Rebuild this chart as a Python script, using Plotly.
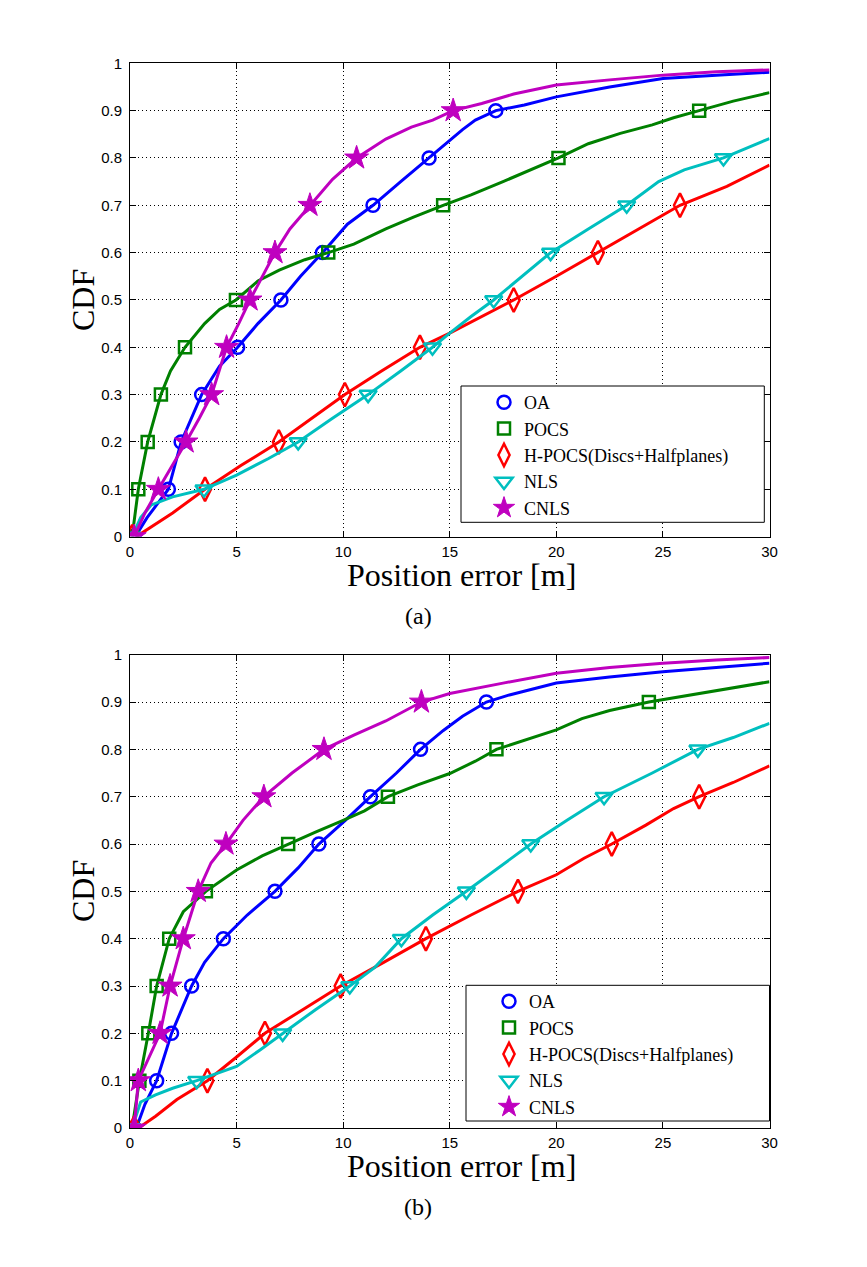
import plotly.graph_objects as go

W, H = 867, 1267
PAGE_OFFSET = 8  # default body margin of the html page

names = ["OA", "POCS", "H-POCS(Discs+Halfplanes)", "NLS", "CNLS"]
colors = ["#0000FF", "#008000", "#FF0000", "#00BFBF", "#BF00BF"]
symbols = ["circle-open", "square-open", "diamond-tall-open", "triangle-down-open", "star"]
msizes = [13, 12, 17, 15, 18]

levels = [0.0, 0.1, 0.2, 0.3, 0.4, 0.5, 0.6, 0.7, 0.8, 0.9]

# ---------------- panel (a) ----------------
a_oa_x = [0.25, 0.8, 1.3, 1.8, 2.4, 3.36, 4.2, 5.05, 6.0, 7.08, 8.0, 9.03, 10.2, 11.4, 12.7, 14.03, 15.0, 15.6, 16.2, 17.16, 18.5, 20, 22.5, 25, 27.5, 30]
a_oa_y = [0, 0.04, 0.07, 0.1, 0.2, 0.3, 0.36, 0.4, 0.45, 0.5, 0.55, 0.6, 0.66, 0.7, 0.75, 0.8, 0.838, 0.86, 0.88, 0.9, 0.912, 0.929, 0.95, 0.968, 0.975, 0.981]
a_oa_m = [0.2, 1.8, 2.4, 3.36, 5.05, 7.08, 9.03, 11.4, 14.03, 17.16]

a_pocs_x = [0.1, 0.39, 0.83, 1.45, 1.9, 2.58, 3.5, 4.2, 4.97, 6.0, 7.0, 8.2, 9.3, 10.5, 12.0, 13.3, 14.69, 16, 17.5, 18.8, 20.1, 21.5, 23, 24.5, 25.5, 26.7, 28.3, 30]
a_pocs_y = [0, 0.1, 0.2, 0.3, 0.35, 0.4, 0.45, 0.48, 0.5, 0.54, 0.563, 0.585, 0.6, 0.618, 0.65, 0.675, 0.7, 0.722, 0.75, 0.775, 0.8, 0.83, 0.852, 0.87, 0.885, 0.9, 0.92, 0.938]
a_pocs_m = [0.1, 0.39, 0.83, 1.45, 2.58, 4.97, 9.3, 14.69, 20.1, 26.7]

a_hp_x = [0.3, 1.0, 2.0, 3.52, 5.2, 6.98, 8.5, 10.08, 11.8, 13.6, 15, 16.5, 18.0, 20, 21.95, 23.9, 25.8, 28, 30]
a_hp_y = [0, 0.02, 0.05, 0.1, 0.15, 0.2, 0.25, 0.3, 0.35, 0.4, 0.43, 0.465, 0.5, 0.55, 0.6, 0.65, 0.7, 0.74, 0.785]
a_hp_m = [0.1, 3.52, 6.98, 10.08, 13.6, 18.0, 21.95, 25.8]

a_nls_x = [0.1, 0.5, 1.0, 2.0, 3.47, 5.0, 6.5, 7.89, 9.5, 11.17, 12.7, 14.19, 15.0, 16.0, 17.06, 18.4, 19.73, 21.5, 23.3, 24.8, 26, 27.84, 30]
a_nls_y = [0, 0.04, 0.067, 0.084, 0.1, 0.13, 0.165, 0.2, 0.25, 0.3, 0.35, 0.4, 0.43, 0.465, 0.5, 0.55, 0.6, 0.65, 0.7, 0.75, 0.775, 0.8, 0.841]
a_nls_m = [0.1, 3.47, 7.89, 11.17, 14.19, 17.06, 19.73, 23.3, 27.84]

a_cnls_x = [0.2, 0.7, 1.33, 2.0, 2.63, 3.25, 3.83, 4.53, 5.1, 5.63, 6.2, 6.8, 7.5, 8.44, 9.5, 10.63, 12.0, 13.2, 14.2, 15.16, 16.5, 18, 20, 22.5, 25, 27.5, 30]
a_cnls_y = [0, 0.05, 0.1, 0.15, 0.2, 0.25, 0.3, 0.4, 0.45, 0.5, 0.55, 0.6, 0.65, 0.7, 0.755, 0.8, 0.84, 0.865, 0.88, 0.9, 0.915, 0.935, 0.954, 0.965, 0.975, 0.982, 0.986]
a_cnls_m = [0.2, 1.33, 2.63, 3.83, 4.53, 5.63, 6.8, 8.44, 10.63, 15.16]

# ---------------- panel (b) ----------------
b_oa_x = [0.3, 0.7, 1.25, 1.95, 2.89, 3.5, 4.38, 5.5, 6.8, 7.9, 8.86, 10.1, 11.28, 12.5, 13.63, 14.7, 15.6, 16.72, 17.8, 20, 22.5, 25, 27.5, 30]
b_oa_y = [0, 0.05, 0.1, 0.2, 0.3, 0.35, 0.4, 0.45, 0.5, 0.55, 0.6, 0.65, 0.7, 0.75, 0.8, 0.84, 0.87, 0.9, 0.915, 0.94, 0.953, 0.964, 0.973, 0.982]
b_oa_m = [0.2, 1.25, 1.95, 2.89, 4.38, 6.8, 8.86, 11.28, 13.63, 16.72]

b_pocs_x = [0.1, 0.44, 0.86, 1.25, 1.84, 2.5, 3.56, 5.0, 6.2, 7.42, 8.7, 10.0, 11.0, 12.1, 13.5, 15, 16.2, 17.19, 18.6, 20, 21.2, 22.5, 24.34, 26, 28, 30]
b_pocs_y = [0, 0.1, 0.2, 0.3, 0.4, 0.457, 0.5, 0.545, 0.575, 0.6, 0.625, 0.65, 0.67, 0.7, 0.725, 0.749, 0.775, 0.8, 0.82, 0.841, 0.865, 0.882, 0.9, 0.913, 0.928, 0.943]
b_pocs_m = [0.1, 0.44, 0.86, 1.25, 1.84, 3.56, 7.42, 12.1, 17.19, 24.34]

b_hp_x = [0.4, 1.2, 2.2, 3.63, 5.0, 6.33, 8.1, 9.88, 11.9, 13.88, 16.0, 18.2, 20, 21.3, 22.6, 24.2, 25.5, 26.7, 28.3, 30]
b_hp_y = [0, 0.025, 0.06, 0.1, 0.15, 0.2, 0.25, 0.3, 0.35, 0.4, 0.45, 0.5, 0.535, 0.57, 0.6, 0.64, 0.675, 0.7, 0.73, 0.765]
b_hp_m = [0.2, 3.63, 6.33, 9.88, 13.88, 18.2, 22.6, 26.7]

b_nls_x = [0.1, 0.5, 1.2, 2.0, 3.13, 5.0, 6.1, 7.16, 8.7, 10.31, 11.5, 12.73, 14.2, 15.78, 17.3, 18.8, 20.5, 22.24, 24.5, 26.64, 28.3, 30]
b_nls_y = [0, 0.055, 0.07, 0.084, 0.1, 0.13, 0.165, 0.2, 0.25, 0.3, 0.34, 0.4, 0.45, 0.5, 0.55, 0.6, 0.65, 0.7, 0.75, 0.8, 0.825, 0.855]
b_nls_m = [0.1, 3.13, 7.16, 10.31, 12.73, 15.78, 18.8, 22.24, 26.64]

b_cnls_x = [0.2, 0.39, 1.41, 1.88, 2.5, 3.2, 3.8, 4.5, 5.3, 6.28, 7.6, 9.1, 10.5, 12.0, 13.67, 15, 17.5, 20, 22.5, 25, 27.5, 30]
b_cnls_y = [0, 0.1, 0.2, 0.3, 0.4, 0.5, 0.56, 0.6, 0.65, 0.7, 0.75, 0.8, 0.83, 0.86, 0.9, 0.918, 0.94, 0.961, 0.973, 0.982, 0.989, 0.994]
b_cnls_m = [0.2, 0.39, 1.41, 1.88, 2.5, 3.2, 4.5, 6.28, 9.1, 13.67]

x_ticks = [0, 5, 10, 15, 20, 25, 30]
y_ticks = [0, 0.1, 0.2, 0.3, 0.4, 0.5, 0.6, 0.7, 0.8, 0.9, 1]
x_title = "Position error [m]"
y_title = "CDF"
panel_labels = ["(a)", "(b)"]

panels = [
    [(a_oa_x, a_oa_y, a_oa_m), (a_pocs_x, a_pocs_y, a_pocs_m), (a_hp_x, a_hp_y, a_hp_m),
     (a_nls_x, a_nls_y, a_nls_m), (a_cnls_x, a_cnls_y, a_cnls_m)],
    [(b_oa_x, b_oa_y, b_oa_m), (b_pocs_x, b_pocs_y, b_pocs_m), (b_hp_x, b_hp_y, b_hp_m),
     (b_nls_x, b_nls_y, b_nls_m), (b_cnls_x, b_cnls_y, b_cnls_m)],
]

# pixel geometry (in page pixels) of the two plot boxes (left, right, top, bottom)
boxes = [(130, 769.5, 63.3, 536.6), (130, 769.5, 654.7, 1128.0)]
legend_boxes = [(461, 764.3, 386, 522.3), (466, 769.5, 985.3, 1121)]
legend_anchor = [(484, 384), (489, 983)]
label_pos = [(418, 615.5), (418, 1207)]
xtitle_pos = [(461, 575), (461, 1166)]
ytitle_pos = [(83, 300), (83, 891)]

def px_x(p):
    return (p - PAGE_OFFSET) / W

def px_y(p):
    return 1 - (p - PAGE_OFFSET) / H

SERIF = "Liberation Serif, Times New Roman, serif"
SANS = "Liberation Sans, Arial, sans-serif"

fig = go.Figure()

for pi, series in enumerate(panels):
    xa = "x" if pi == 0 else "x2"
    ya = "y" if pi == 0 else "y2"
    lg = "legend" if pi == 0 else "legend2"
    for si, (lx, ly, mx) in enumerate(series):
        fig.add_trace(go.Scatter(
            x=lx, y=ly, mode="lines", xaxis=xa, yaxis=ya,
            line=dict(color=colors[si], width=3), showlegend=False, hoverinfo="skip"))
        my = levels[:len(mx)]
        fig.add_trace(go.Scatter(
            x=mx, y=my, mode="markers", xaxis=xa, yaxis=ya, name=names[si], legend=lg,
            marker=dict(symbol=symbols[si], size=msizes[si], color=colors[si],
                        line=dict(color=colors[si], width=2.5 if si != 4 else 1))))

axis_common = dict(
    showline=True, linecolor="black", linewidth=1, mirror="allticks",
    ticks="inside", ticklen=6, tickcolor="black", showgrid=True, gridcolor="black",
    gridwidth=1, griddash="1px,3px", zeroline=False, automargin=False,
    tickfont=dict(family=SANS, size=15, color="black"),
)

for pi, (l, r, t, b) in enumerate(boxes):
    xd = [px_x(l), px_x(r)]
    yd = [px_y(b), px_y(t)]
    xkey = "xaxis" if pi == 0 else "xaxis2"
    ykey = "yaxis" if pi == 0 else "yaxis2"
    xanchor = "y" if pi == 0 else "y2"
    yanchor = "x" if pi == 0 else "x2"
    fig.update_layout(**{
        xkey: dict(axis_common, domain=xd, anchor=xanchor, range=[0, 30], tickvals=x_ticks,
                   ticklabelstandoff=1),
        ykey: dict(axis_common, domain=yd, anchor=yanchor, range=[0, 1], tickvals=y_ticks,
                   ticklabelstandoff=4),
    })

shapes = []
for (l, r, t, b) in legend_boxes:
    shapes.append(dict(type="rect", xref="paper", yref="paper", x0=px_x(l), x1=px_x(r),
                       y0=px_y(b), y1=px_y(t), fillcolor="white",
                       line=dict(color="black", width=1), layer="above"))

legend_style = dict(
    xanchor="left", yanchor="top", bgcolor="rgba(0,0,0,0)", borderwidth=0,
    font=dict(family=SERIF, size=18, color="black"), itemsizing="trace",
)

annotations = []
for txt, (x, y) in zip(panel_labels, label_pos):
    annotations.append(dict(text=txt, x=px_x(x), y=px_y(y), xref="paper", yref="paper",
                            showarrow=False, xanchor="center", yanchor="middle",
                            font=dict(family=SERIF, size=24, color="black")))
for (x, y) in xtitle_pos:
    annotations.append(dict(text=x_title, x=px_x(x), y=px_y(y), xref="paper", yref="paper",
                            showarrow=False, xanchor="center", yanchor="middle",
                            font=dict(family=SERIF, size=32, color="black")))
for (x, y) in ytitle_pos:
    annotations.append(dict(text=y_title, x=px_x(x), y=px_y(y), xref="paper", yref="paper",
                            showarrow=False, xanchor="center", yanchor="middle", textangle=-90,
                            font=dict(family=SERIF, size=32, color="black")))

fig.update_layout(
    width=W, height=H, autosize=False,
    margin=dict(l=0, r=0, t=0, b=0, autoexpand=False),
    paper_bgcolor="white", plot_bgcolor="white",
    shapes=shapes, annotations=annotations,
    legend=dict(legend_style, x=px_x(legend_anchor[0][0]), y=px_y(legend_anchor[0][1])),
    legend2=dict(legend_style, x=px_x(legend_anchor[1][0]), y=px_y(legend_anchor[1][1])),
)

fig.write_html("out.html")
